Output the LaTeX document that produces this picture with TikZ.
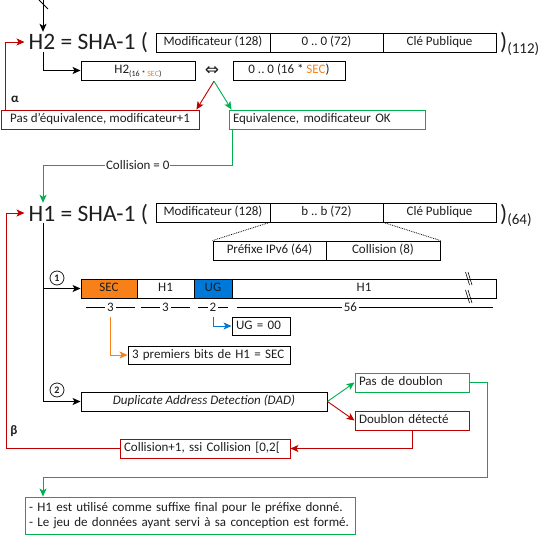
\documentclass[tikz,border=0pt]{standalone}
\usepackage{fontspec}
\setmainfont{Carlito}
\newfontfamily\djv{DejaVu Sans}
\usetikzlibrary{arrows.meta}
\frenchspacing
\definecolor{secor}{RGB}{247,128,25}
\definecolor{ugbl}{RGB}{0,120,215}
\definecolor{redc}{RGB}{192,0,0}
\definecolor{grc}{RGB}{0,176,80}
\definecolor{txt}{RGB}{30,30,30}
\newcommand\mybox[7]{\node[#6,minimum width={#4pt-#2pt},minimum height={#5pt-#3pt}] (#1) at ({(#2+#4)/2},{(#3+#5)/2}) {#7};}
\newcommand\myboxl[8]{\node[#6,minimum width={#4pt-#2pt},minimum height={#5pt-#3pt},text width=#7pt,align=left] (#1) at ({(#2+#4)/2},{(#3+#5)/2}) {#8};}
\tikzset{
  bxbase/.style={draw=black,line width=0.9pt,inner xsep=4pt,inner ysep=0pt,font=\fontsize{13}{15}\selectfont,text=txt},
  bx/.style={bxbase,text height=9pt,text depth=3pt},
  rbx/.style={bx,draw=redc},
  gbx/.style={bx,draw=grc},
  big/.style={inner xsep=4pt,inner ysep=0pt,text height=18pt,text depth=2pt,font=\fontsize{23.5}{26}\selectfont,text=txt},
  bigp/.style={big,inner xsep=0pt},
  conn/.style={line width=0.9pt,-{Stealth[length=8pt,width=7pt,inset=2pt]}},
  rconn/.style={conn,draw=redc,-{Stealth[length=8pt,width=7pt,inset=2pt,fill=redc]}},
  gconn/.style={conn,draw=grc,-{Stealth[length=8pt,width=7pt,inset=2pt,fill=grc]}},
  bconn/.style={conn,draw=ugbl,-{Stealth[length=8pt,width=7pt,inset=2pt,fill=ugbl]}},
  oconn/.style={conn,draw=secor,-{Stealth[length=8pt,width=7pt,inset=2pt,fill=secor]}},
  plain/.style={line width=0.9pt},
  dotl/.style={line width=0.8pt,densely dotted},
  lab/.style={fill=white,inner xsep=1pt,inner ysep=1pt,font=\fontsize{13}{15}\selectfont,text=txt},
  dimlab/.style={fill=white,inner xsep=2pt,inner ysep=0pt,text height=9pt,text depth=0pt,font=\fontsize{13}{15}\selectfont,text=txt},
  circ/.style={draw=txt,circle,line width=0.8pt,minimum size=14pt,inner sep=0pt,font=\fontsize{10}{10}\selectfont\bfseries,text=txt},
  greek/.style={inner sep=0pt,font=\fontsize{13}{15}\selectfont\bfseries,text=txt},
  eqvs/.style={inner sep=0pt,minimum height=20pt,font=\djv\fontsize{17}{17}\selectfont,text=txt}
}
\begin{document}
\begin{tikzpicture}[x=1pt,y=-1pt]
\useasboundingbox (0,0) rectangle (543,535);

% ---------- H2 block ----------
\node[big,anchor=base west] (h2) at (24.5,50) {H2 = SHA-1 (};
\mybox{mod1}{156}{33}{270}{52}{bx}{Modificateur (128)}
\mybox{zer}{270}{33}{383}{52}{bx}{0 .. 0 (72)}
\mybox{cle1}{383}{33}{496}{52}{bx}{Clé Publique}
\node[bigp,anchor=base west] (p1) at (500,50) {)\raisebox{-3pt}{\fontsize{15}{15}\selectfont(112)}};
\mybox{h2s}{81}{61}{195}{80}{bx}{H2\raisebox{-2.5pt}{\fontsize{8}{8}\selectfont(16 * \textcolor{secor}{SEC})}}
\node[eqvs] (eqv) at (212,71) {⇔};
\mybox{zs}{233}{61}{345}{80}{bx}{0 .. 0 (16 * \textcolor{secor}{SEC})}
\node[greek] (al) at (15,99) {α};
\mybox{pe}{1}{110}{199}{129}{rbx}{Pas d’équivalence, modificateur+1}
\myboxl{ok}{229}{110}{425}{129}{gbx}{188}{Equivalence, modificateur OK}

% ---------- H1 block ----------
\node[big,anchor=base west] (h1) at (24.5,221) {H1 = SHA-1 (};
\mybox{mod2}{156}{203}{270}{222}{bx}{Modificateur (128)}
\mybox{bb}{270}{203}{383}{222}{bx}{b .. b (72)}
\mybox{cle2}{383}{203}{496}{222}{bx}{Clé Publique}
\node[bigp,anchor=base west] (p2) at (500,221) {)\raisebox{-3pt}{\fontsize{15}{15}\selectfont(64)}};
\mybox{pref}{213}{241}{326}{260}{bx}{Préfixe IPv6 (64)}
\mybox{col}{326}{241}{440}{260}{bx}{Collision (8)}

\node[circ] (c1) at (57,278) {1};
\mybox{sec}{81}{279}{137}{298}{bx,fill=secor}{SEC}
\mybox{ha}{137}{279}{194}{298}{bx}{H1}
\mybox{ug}{194}{279}{232}{298}{bx,fill=ugbl}{UG}
\mybox{hb}{232}{279}{496}{298}{bx}{H1}

\draw[line width=0.6pt] (465.5,272) -- (469.5,285) (468,272) -- (472,285)
                        (465.5,290) -- (469.5,303) (468,290) -- (472,303);

\draw[line width=0.8pt] (86,307) -- node[dimlab] (d1) {3} (135,307);
\draw[line width=0.8pt] (141,307) -- node[dimlab] (d2) {3} (190,307);
\draw[line width=0.8pt] (198,307) -- node[dimlab] (d3) {2} (228,307);
\draw[line width=0.8pt] (237,307) -- node[dimlab,pos=0.443] (d4) {56} (493,307);

\myboxl{ug00}{232}{317}{290}{335}{bx}{50}{UG = 00}
\myboxl{s3}{128}{346}{290}{364}{bx}{154}{3 premiers bits de H1 = SEC}

\node[circ] (c2) at (57,390) {2};
\mybox{dad}{81}{392}{327}{411}{bx,font=\fontsize{13}{15}\selectfont\itshape}{Duplicate Address Detection (DAD)}
\myboxl{nd}{355}{373}{469}{392}{gbx}{106}{Pas de doublon}
\myboxl{dd}{355}{411}{469}{430}{rbx}{106}{Doublon détecté}
\myboxl{cb}{120}{439}{290}{458}{rbx}{162}{Collision+1, ssi Collision [0,2[}
\node[greek] (be) at (14,431) {β};
\myboxl{fin}{25}{497}{355}{534}{bxbase,draw=grc}{322}{- H1 est utilisé comme suffixe final pour le préfixe donné.\\- Le jeu de données ayant servi à sa conception est formé.}

% ---------- connectors ----------
\coordinate (topc) at (43,0);
\coordinate (lx) at (6,0);
\coordinate (gc) at (43,165);
\coordinate (gr) at (487,477);
\draw[plain] (39,0) -- (48,9);
\draw[conn] (topc) -- (topc |- h2.north);
\draw[conn] (h2.south -| topc) |- (h2s.west);
\draw[rconn] ([xshift=2pt]eqv.south) -- ([xshift=-3pt]pe.north east);
\draw[gconn] ([xshift=2pt]eqv.south) -- ([xshift=3pt]ok.north west);
\draw[rconn] ([xshift=5pt]pe.north west) |- (h2.west);
\draw[gconn] ([xshift=4pt]ok.south west) |- node[pos=0.75,lab] {Collision = 0} (gc) -- (h1.north -| gc);

\draw[dotl] (bb.south west) -- (pref.north west);
\draw[dotl] (bb.south east) -- (col.north east);

\draw[conn] (h1.south -| topc) |- (sec.west);
\draw[conn] (h1.south -| topc) |- (dad.west);
\draw[bconn] ([yshift=-5pt]d3.south) |- (ug00.west);
\draw[oconn] ([yshift=-5pt]d1.south) |- (s3.west);

\draw[gconn] (dad.east) -- (nd.west);
\draw[rconn] (dad.east) -- (dd.west);
\draw[rconn] (dd.south) |- (cb.east);
\draw[rconn] (cb.west) -| (lx |- h1.west) -- (h1.west);
\draw[gconn] (nd.east) -| (gr) -| (fin.north -| topc);
\end{tikzpicture}
\end{document}
